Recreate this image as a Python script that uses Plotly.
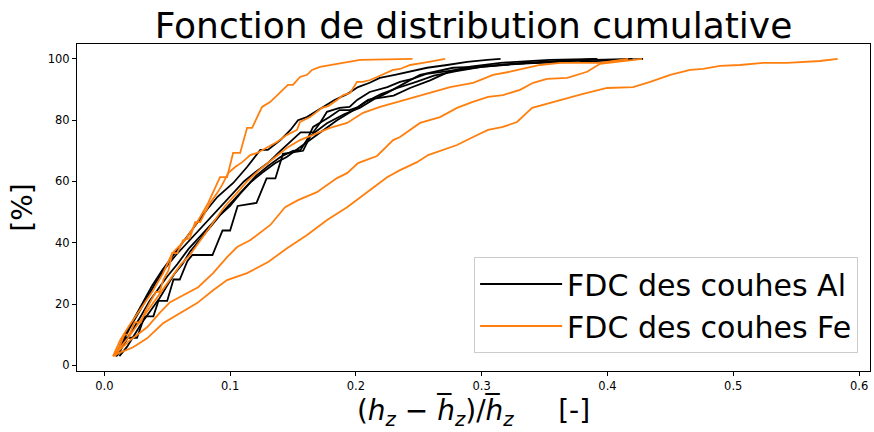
import plotly.graph_objects as go

# ---- Al layers (black) ----
al1_x = [0.009, 0.013, 0.017, 0.026, 0.032, 0.039, 0.043, 0.050, 0.055, 0.060, 0.066, 0.070, 0.086, 0.094, 0.100, 0.106, 0.121, 0.129, 0.136, 0.142, 0.158, 0.164, 0.177, 0.191, 0.203, 0.215, 0.230, 0.243, 0.259, 0.275, 0.291, 0.315, 0.354, 0.392]
al1_y = [3, 5, 9, 9, 16, 16, 21, 21, 28, 28, 34, 36, 36, 44, 44, 52, 53, 61, 61, 69, 70, 75, 79, 82, 84, 87, 88, 90.5, 93, 96, 97.5, 98.7, 99.7, 100]

al2_x = [0.009, 0.015, 0.022, 0.030, 0.038, 0.046, 0.055, 0.064, 0.073, 0.082, 0.090, 0.1025, 0.1135, 0.124, 0.130, 0.140, 0.148, 0.154, 0.161, 0.170, 0.183, 0.193, 0.2017, 0.211, 0.219, 0.231, 0.243, 0.2566, 0.2725, 0.2885, 0.3045, 0.315]
al2_y = [3, 9, 14, 20, 26, 31, 36, 41, 46, 51, 55, 59.5, 64.7, 70.3, 70.3, 73.5, 76.8, 80, 81, 83.3, 86.6, 88.5, 90.8, 92.2, 93.8, 94.8, 95.8, 97.1, 98, 99, 99.7, 100]

al3_x = [0.009, 0.014, 0.020, 0.027, 0.034, 0.041, 0.049, 0.057, 0.066, 0.075, 0.084, 0.093, 0.102, 0.111, 0.120, 0.130, 0.140, 0.148, 0.156, 0.166, 0.172, 0.177, 0.187, 0.195, 0.201, 0.211, 0.225, 0.235, 0.245, 0.256, 0.270, 0.285, 0.300, 0.330, 0.360, 0.390]
al3_y = [3, 7, 12, 17, 22, 27, 32, 36, 40, 44, 48, 52, 56, 60, 63, 66, 70, 73, 76, 76, 79.4, 82.7, 84, 84.3, 86.6, 89.2, 90.8, 92.5, 93.5, 95.1, 95.8, 96.7, 97.4, 98.4, 99, 100]

al4_x = [0.010, 0.016, 0.022, 0.029, 0.036, 0.043, 0.050, 0.058, 0.067, 0.076, 0.085, 0.094, 0.103, 0.112, 0.121, 0.130, 0.140, 0.150, 0.156, 0.161, 0.166, 0.179, 0.187, 0.195, 0.2017, 0.2097, 0.2168, 0.2248, 0.2328, 0.2407, 0.251, 0.2614, 0.2773, 0.293, 0.3123, 0.3385, 0.3783, 0.4283]
al4_y = [3, 7, 11, 16, 21, 25, 29, 33, 38, 42, 46, 50, 54, 58, 62, 65, 68, 70, 70.3, 73.5, 77.8, 81, 83.3, 83.3, 84.3, 86.6, 87.3, 88.9, 90.8, 92.5, 94.8, 95.8, 97.1, 97.4, 98, 98.7, 99, 100]

al5_x = [0.012, 0.018, 0.024, 0.030, 0.037, 0.044, 0.050, 0.056, 0.062, 0.068, 0.076, 0.084, 0.092, 0.100, 0.108, 0.117, 0.126, 0.136, 0.145, 0.155, 0.165, 0.175, 0.185, 0.197, 0.208, 0.220, 0.233, 0.248, 0.262, 0.280, 0.300, 0.325, 0.360, 0.390, 0.420]
al5_y = [3, 6, 10, 14, 18, 22, 26, 30, 33, 37, 41, 45, 49, 52, 56, 60, 63, 66, 68, 71, 74, 77, 80, 83, 86, 88.5, 90.5, 92.5, 94.5, 96, 97.4, 98.4, 99.3, 99.7, 100]

# ---- Fe layers (orange) ----
fe1_x = [0.007, 0.0126, 0.019, 0.0285, 0.038, 0.0467, 0.054, 0.064, 0.0738, 0.0825, 0.092, 0.0976, 0.1024, 0.108, 0.1135, 0.1175, 0.1254, 0.1318, 0.1373, 0.142, 0.146, 0.150, 0.1556, 0.1612, 0.1651, 0.1715, 0.1795, 0.193, 0.2033, 0.245]
fe1_y = [3, 8.2, 12.4, 18, 23.9, 30, 36.6, 40.8, 46.7, 52.9, 61.4, 61.4, 69.3, 69.3, 77.5, 77.5, 84.3, 85.9, 88.2, 89.9, 91.5, 91.5, 94.1, 94.8, 96.4, 97.4, 98, 99, 99.7, 100]

fe2_x = [0.007, 0.012, 0.016, 0.020, 0.024, 0.029, 0.033, 0.037, 0.041, 0.044, 0.047, 0.051, 0.054, 0.058, 0.0626, 0.068, 0.0722, 0.0762, 0.080, 0.084, 0.0897, 0.0936, 0.0985, 0.104, 0.1097, 0.116, 0.1215, 0.1294, 0.1373, 0.1453, 0.1532, 0.1556, 0.1636, 0.173, 0.178, 0.185, 0.190, 0.1954, 0.2009, 0.2057, 0.2113, 0.2168, 0.2248, 0.2296, 0.2351, 0.2431, 0.2534, 0.2614, 0.271]
fe2_y = [3, 6, 10, 10, 14, 14, 18, 21, 24, 24, 28, 31, 36.6, 36.6, 40.8, 41.5, 46.7, 46.7, 50, 52.9, 56.2, 58.8, 62.7, 64.7, 66.3, 68.6, 69.3, 71.2, 72.9, 75.2, 76.8, 79.4, 81, 84, 84.6, 86.6, 88.2, 88.9, 92.5, 92.5, 93.1, 94.1, 95.4, 96.4, 96.7, 98, 98.7, 99.3, 100]

fe3_x = [0.008, 0.013, 0.019, 0.026, 0.033, 0.040, 0.047, 0.054, 0.061, 0.068, 0.075, 0.082, 0.089, 0.096, 0.105, 0.1135, 0.1238, 0.1341, 0.1453, 0.1556, 0.1659, 0.1795, 0.193, 0.2057, 0.2192, 0.2328, 0.2486, 0.2614, 0.2749, 0.2932, 0.3091, 0.3226, 0.3361, 0.3464, 0.3624, 0.394, 0.4165]
fe3_y = [3, 6, 9, 13, 17, 21, 25, 29, 33, 36, 40, 44, 48, 52, 56, 60, 64, 67.5, 71, 73.5, 75.2, 77.5, 79.1, 82.4, 84.3, 85.9, 87.6, 89.2, 90.8, 92.2, 94.8, 95.8, 97.1, 98, 98.7, 98.7, 100]

fe4_x = [0.007, 0.0205, 0.034, 0.0444, 0.0523, 0.0626, 0.0746, 0.0865, 0.0976, 0.1056, 0.1159, 0.132, 0.1437, 0.154, 0.169, 0.185, 0.193, 0.2017, 0.2168, 0.2296, 0.2351, 0.251, 0.2669, 0.2804, 0.2924, 0.3051, 0.317, 0.3305, 0.3409, 0.352, 0.368, 0.3838, 0.3941, 0.4275]
fe4_y = [3, 8.2, 12.4, 17.3, 20.6, 22.9, 25.5, 30.1, 35.3, 38.6, 40.8, 45.8, 51.6, 53.9, 56.5, 61.1, 62.7, 66, 68.3, 73.5, 74.5, 79.1, 81, 84, 85.9, 87.6, 88.2, 89.9, 92.2, 93.5, 93.8, 95.8, 98.4, 100]

fe5_x = [0.008, 0.011, 0.0229, 0.034, 0.0467, 0.060, 0.0738, 0.0865, 0.0976, 0.1135, 0.1302, 0.1453, 0.1612, 0.1771, 0.193, 0.2089, 0.2248, 0.2351, 0.2486, 0.2574, 0.2693, 0.2804, 0.2932, 0.3051, 0.317, 0.3281, 0.3401, 0.3544, 0.3679, 0.3806, 0.3997, 0.4204, 0.434, 0.4499, 0.4657, 0.476, 0.4895, 0.5054, 0.5237, 0.5428, 0.569, 0.583]
fe5_y = [3, 3.9, 5.9, 8.8, 13.7, 17, 20.3, 24.5, 27.8, 30.1, 33.7, 38.2, 42.5, 47.4, 51.6, 56.5, 61.4, 63.7, 66.3, 68.6, 70.3, 71.9, 74.5, 76.8, 77.8, 79.4, 84, 85.6, 87.3, 88.6, 90.5, 90.8, 92.5, 94.8, 96.4, 96.7, 97.7, 98, 98.7, 98.7, 99.3, 100]

al_series = [(al1_x, al1_y), (al2_x, al2_y), (al3_x, al3_y), (al4_x, al4_y), (al5_x, al5_y)]
fe_series = [(fe1_x, fe1_y), (fe2_x, fe2_y), (fe3_x, fe3_y), (fe4_x, fe4_y), (fe5_x, fe5_y)]

x_ticks = [0.0, 0.1, 0.2, 0.3, 0.4, 0.5, 0.6]
y_ticks = [0, 20, 40, 60, 80, 100]

BLACK = "#000000"
ORANGE = "#ff7f0e"
FONT = "DejaVu Sans"

fig = go.Figure()
for i, (xs, ys) in enumerate(al_series):
    fig.add_trace(go.Scatter(x=xs, y=ys, mode="lines", line=dict(color=BLACK, width=1.8),
                             name="FDC des couhes Al", legendgroup="al", showlegend=(i == 0)))
for i, (xs, ys) in enumerate(fe_series):
    fig.add_trace(go.Scatter(x=xs, y=ys, mode="lines", line=dict(color=ORANGE, width=1.8),
                             name="FDC des couhes Fe", legendgroup="fe", showlegend=(i == 0)))

xlabel = ("(<i>h</i><sub><i>z</i></sub> \u2212 <i>h\u0305</i><sub><i>z</i></sub>)/"
          "<i>h\u0305</i><sub><i>z</i></sub>\u00a0\u00a0\u00a0\u00a0\u00a0[-]")

fig.update_layout(
    width=874, height=432,
    margin=dict(l=77, r=4, t=44, b=61, autoexpand=False),
    paper_bgcolor="white", plot_bgcolor="white",
    font=dict(family=FONT, color="black"),
    title=dict(text="Fonction de distribution cumulative", font=dict(size=36, family=FONT, color="black"),
               x=0.5, xref="paper", xanchor="center", y=1 - 25 / 432, yref="container", yanchor="middle"),
    showlegend=True,
    legend=dict(x=0.985, y=0.055, xanchor="right", yanchor="bottom",
                bgcolor="rgba(255,255,255,0.8)", bordercolor="#cccccc", borderwidth=1,
                font=dict(size=30, family=FONT, color="black"), itemwidth=82,
                tracegroupgap=0),
)
fig.update_xaxes(range=[-0.0217, 0.6087], tickvals=x_ticks, ticktext=[f"{v:.1f}" for v in x_ticks],
                 showgrid=False, zeroline=False, showline=True, linecolor="black", linewidth=1,
                 mirror=True, ticks="outside", ticklen=4, tickcolor="black", tickwidth=1,
                 tickfont=dict(size=11.5, family=FONT, color="black"),
                 title=dict(text=xlabel, font=dict(size=28, family=FONT, color="black"), standoff=6),
                 automargin=False)
fig.update_yaxes(range=[-1.85, 104.85], tickvals=y_ticks, ticktext=[str(v) for v in y_ticks],
                 showgrid=False, zeroline=False, showline=True, linecolor="black", linewidth=1,
                 mirror=True, ticks="outside", ticklen=4, tickcolor="black", tickwidth=1,
                 tickfont=dict(size=11.5, family=FONT, color="black"),
                 title=dict(text="[%]", font=dict(size=28, family=FONT, color="black"), standoff=6),
                 automargin=False)

fig.write_html("out.html")
